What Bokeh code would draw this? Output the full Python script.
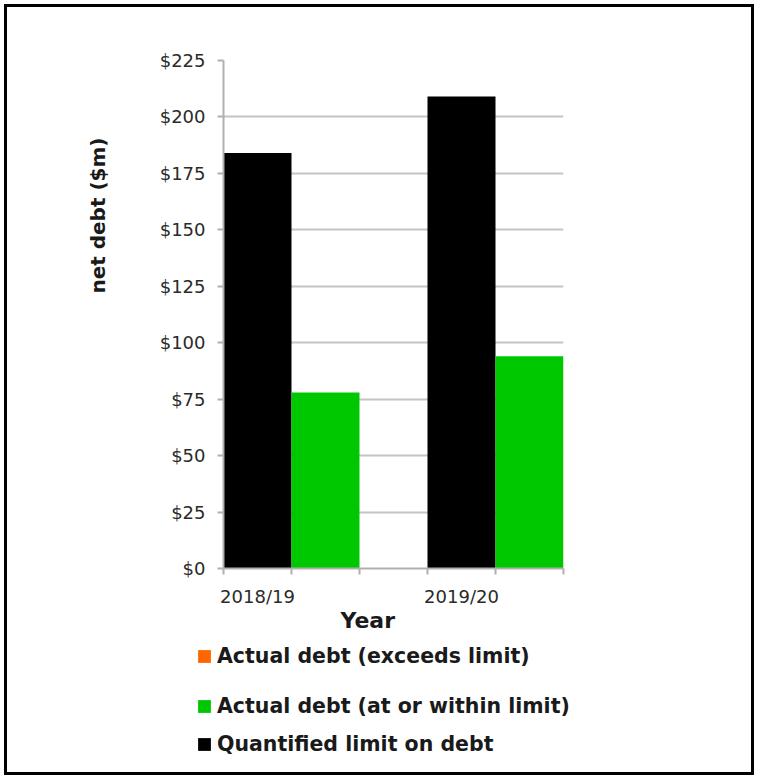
from bokeh.plotting import figure
from bokeh.layouts import column
from bokeh.models import (ColumnDataSource, FixedTicker, Range1d, Legend, LegendItem, Title)
from bokeh.embed import file_html
from bokeh.resources import INLINE

# ---- data ----
years = ["2018/19", "2019/20"]
limit_debt = [184, 209]
actual_within = [78, 94]
actual_exceeds = [0, 0]
y_ticks = [0, 25, 50, 75, 100, 125, 150, 175, 200, 225]
series_labels = ["Actual debt (exceeds limit)", "Actual debt (at or within limit)",
                 "Quantified limit on debt"]
series_colors = ["#ff6600", "#00c800", "#000000"]
series_cols = ["exceeds", "within", "limit"]

slot = 3  # each year occupies limit bar, actual bar, gap
idx = list(range(len(years)))
x_limit = [i * slot + 0.5 for i in idx]
x_actual = [i * slot + 1.5 for i in idx]

src = ColumnDataSource(dict(year=years, xl=x_limit, xa=x_actual,
                            limit=limit_debt, within=actual_within,
                            exceeds=actual_exceeds))

FONT = "DejaVu Sans"
W = 744

p = figure(width=W, height=628, output_backend="svg", toolbar_location=None,
           x_range=Range1d(0, len(years) * slot - 1), y_range=Range1d(0, 225),
           min_border_left=216, min_border_right=188, min_border_top=53,
           min_border_bottom=67)
p.frame_align = False
p.outline_line_color = None
p.background_fill_color = "white"
p.border_fill_color = "white"

p.vbar(x="xa", top="exceeds", width=1, source=src, fill_color=series_colors[0], line_color=None)
p.vbar(x="xl", top="limit", width=1, source=src, fill_color=series_colors[2], line_color=None)
p.vbar(x="xa", top="within", width=1, source=src, fill_color=series_colors[1], line_color=None)

# axes
p.xgrid.visible = False
p.ygrid.grid_line_color = "#c4c4c4"
p.ygrid.grid_line_width = 2
p.ygrid.ticker = FixedTicker(ticks=y_ticks)

p.yaxis.ticker = FixedTicker(ticks=y_ticks)
p.yaxis.major_label_overrides = {t: f"${t}" for t in y_ticks}
p.yaxis.axis_line_color = "#b0b0b0"
p.yaxis.axis_line_width = 2
p.yaxis.major_tick_line_color = "#b0b0b0"
p.yaxis.major_tick_line_width = 2
p.yaxis.major_tick_out = 6
p.yaxis.major_tick_in = 0
p.yaxis.minor_tick_line_color = None
p.yaxis.major_label_standoff = 12
p.yaxis.major_label_text_font = FONT
p.yaxis.major_label_text_font_size = "18px"
p.yaxis.major_label_text_color = "#2a2a2a"

p.xaxis.ticker = FixedTicker(ticks=x_limit,
                             minor_ticks=list(range(0, len(years) * slot)))
p.xaxis.major_label_overrides = {x: y for x, y in zip(x_limit, years)}
p.xaxis.axis_line_color = "#b0b0b0"
p.xaxis.axis_line_width = 2
p.xaxis.major_tick_out = 0
p.xaxis.major_tick_in = 0
p.xaxis.minor_tick_line_color = "#b0b0b0"
p.xaxis.minor_tick_line_width = 2
p.xaxis.minor_tick_out = 6
p.xaxis.minor_tick_in = 0
p.xaxis.major_label_standoff = 11
p.xaxis.major_label_text_font = FONT
p.xaxis.major_label_text_font_size = "18px"
p.xaxis.major_label_text_color = "#2a2a2a"

# axis titles
p.add_layout(Title(text="Year", align="left", offset=117, standoff=-7,
                   text_font=FONT, text_font_style="bold", text_font_size="22px",
                   text_color="#1a1a1a"), "below")
p.add_layout(Title(text="net debt ($m)", align="right", offset=77, standoff=94,
                   text_font=FONT, text_font_style="bold", text_font_size="20px",
                   text_color="#1a1a1a"), "left")

# legend area: same series, drawn outside this panel's visible range,
# so only their legend swatches show
LH = 137
q = figure(width=W, height=LH, output_backend="svg", toolbar_location=None,
           x_range=Range1d(0, 1), y_range=Range1d(-2, -1),
           min_border_left=0, min_border_right=0, min_border_top=0, min_border_bottom=0)
q.frame_align = False
q.axis.visible = False
q.grid.visible = False
q.outline_line_color = None
q.border_fill_color = "white"

row_bottoms = [104, 54, 16]
for lab, col, field, yb in zip(series_labels, series_colors, series_cols, row_bottoms):
    r = q.vbar(x="xa", top=field, width=1, source=src, fill_color=col, line_color=None)
    lg = Legend(items=[LegendItem(label=lab, renderers=[r])], location=(189, yb))
    lg.glyph_width = 16
    lg.glyph_height = 16
    lg.label_text_font = FONT
    lg.label_text_font_style = "bold"
    lg.label_text_font_size = "20.5px"
    lg.label_text_color = "#1a1a1a"
    lg.label_standoff = 5
    lg.padding = 0
    lg.margin = 0
    lg.border_line_color = None
    lg.background_fill_alpha = 0
    q.add_layout(lg, "center")

layout = column(p, q, spacing=0,
                styles={"border": "3px solid black", "margin": "4px 0 0 4px"})

open("out.html", "w").write(file_html(layout, INLINE))
